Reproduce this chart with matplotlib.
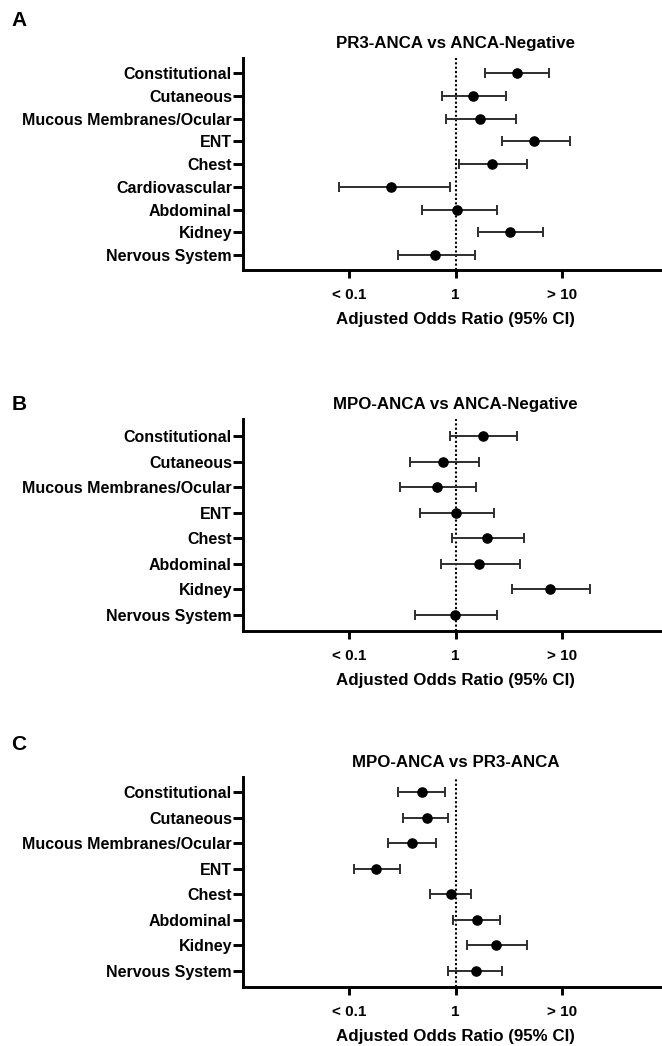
import numpy as np
import matplotlib
matplotlib.use("Agg")
import matplotlib.pyplot as plt
from matplotlib.ticker import NullLocator

plt.rcParams['font.family'] = ['Liberation Sans', 'DejaVu Sans']
plt.rcParams['font.weight'] = 'bold'

# --- dati ---
cats_a = ["Constitutional", "Cutaneous", "Mucous Membranes/Ocular", "ENT", "Chest",
          "Cardiovascular", "Abdominal", "Kidney", "Nervous System"]
or_a = [3.76, 1.46, 1.70, 5.53, 2.20, 0.249, 1.04, 3.28, 0.64]
lo_a = [1.88, 0.74, 0.82, 2.74, 1.08, 0.080, 0.48, 1.64, 0.29]
hi_a = [7.66, 3.00, 3.68, 12.0, 4.71, 0.885, 2.47, 6.62, 1.52]

cats_bc = ["Constitutional", "Cutaneous", "Mucous Membranes/Ocular", "ENT", "Chest",
           "Abdominal", "Kidney", "Nervous System"]
or_b = [1.83, 0.77, 0.67, 1.00, 1.97, 1.66, 7.80, 0.99]
lo_b = [0.88, 0.37, 0.30, 0.46, 0.92, 0.73, 3.42, 0.42]
hi_b = [3.81, 1.68, 1.57, 2.29, 4.39, 4.05, 18.5, 2.47]

or_c = [0.48, 0.54, 0.39, 0.18, 0.90, 1.60, 2.39, 1.55]
lo_c = [0.29, 0.32, 0.23, 0.11, 0.57, 0.95, 1.28, 0.85]
hi_c = [0.80, 0.85, 0.66, 0.30, 1.40, 2.64, 4.74, 2.75]

xtick_vals = [0.1, 1, 10]
xtick_labels = ["< 0.1", "1", "> 10"]

W, H = 662, 1046
fig = plt.figure(figsize=(W / 100, H / 100), dpi=100)


def px_axes(left, top, right, bottom):
    return fig.add_axes([left / W, 1 - bottom / H, (right - left) / W, (bottom - top) / H])


def draw_panel(ax, cats, est, lo, hi, title, ylim):
    y = np.arange(len(cats))
    est = np.array(est)
    err = [est - np.array(lo), np.array(hi) - est]
    ax.axvline(1, color="black", linestyle=(0, (1, 1.1)), lw=1.5, zorder=1)
    ax.errorbar(est, y, xerr=err, fmt="none", ecolor="#2e2e2e", elinewidth=1.4,
                capsize=3.3, capthick=1.4, zorder=2)
    ax.plot(est, y, "o", color="black", ms=6.6, zorder=3)
    ax.set_xscale("log")
    ax.set_xlim(0.01, 100)
    ax.set_ylim(*ylim)
    ax.set_yticks(y)
    ax.set_yticklabels(cats, fontsize=11.5, fontweight="bold")
    ax.set_xticks(xtick_vals)
    ax.set_xticklabels(xtick_labels, fontsize=11, fontweight="bold")
    ax.xaxis.set_minor_locator(NullLocator())
    ax.tick_params(axis="y", length=7, width=2.1, pad=1)
    ax.tick_params(axis="x", length=6, width=2.1, pad=7)
    for s in ["top", "right"]:
        ax.spines[s].set_visible(False)
    for s in ["left", "bottom"]:
        ax.spines[s].set_linewidth(2.1)
    ax.set_xlabel("Adjusted Odds Ratio (95% CI)", fontsize=12.2, fontweight="bold", labelpad=7)
    ax.annotate(title, xy=(0.5, 1), xycoords="axes fraction", xytext=(0, 10.5),
                textcoords="offset points", ha="center", va="center",
                fontsize=12.2, fontweight="bold")


ax_a = px_axes(243, 58, 668, 270)
draw_panel(ax_a, cats_a, or_a, lo_a, hi_a, "PR3-ANCA vs ANCA-Negative", (8.65, -0.67))

ax_b = px_axes(243, 419, 668, 631)
draw_panel(ax_b, cats_bc, or_b, lo_b, hi_b, "MPO-ANCA vs ANCA-Negative", (7.63, -0.68))

ax_c = px_axes(243, 777, 668, 987)
draw_panel(ax_c, cats_bc, or_c, lo_c, hi_c, "MPO-ANCA vs PR3-ANCA", (7.64, -0.6))

# lettere dei pannelli
for lett, ypx in [("A", 20), ("B", 404), ("C", 745)]:
    fig.text(19 / W, 1 - ypx / H, lett, ha="center", va="center", fontsize=15, fontweight="bold")

fig.savefig("out.png", dpi=100)
